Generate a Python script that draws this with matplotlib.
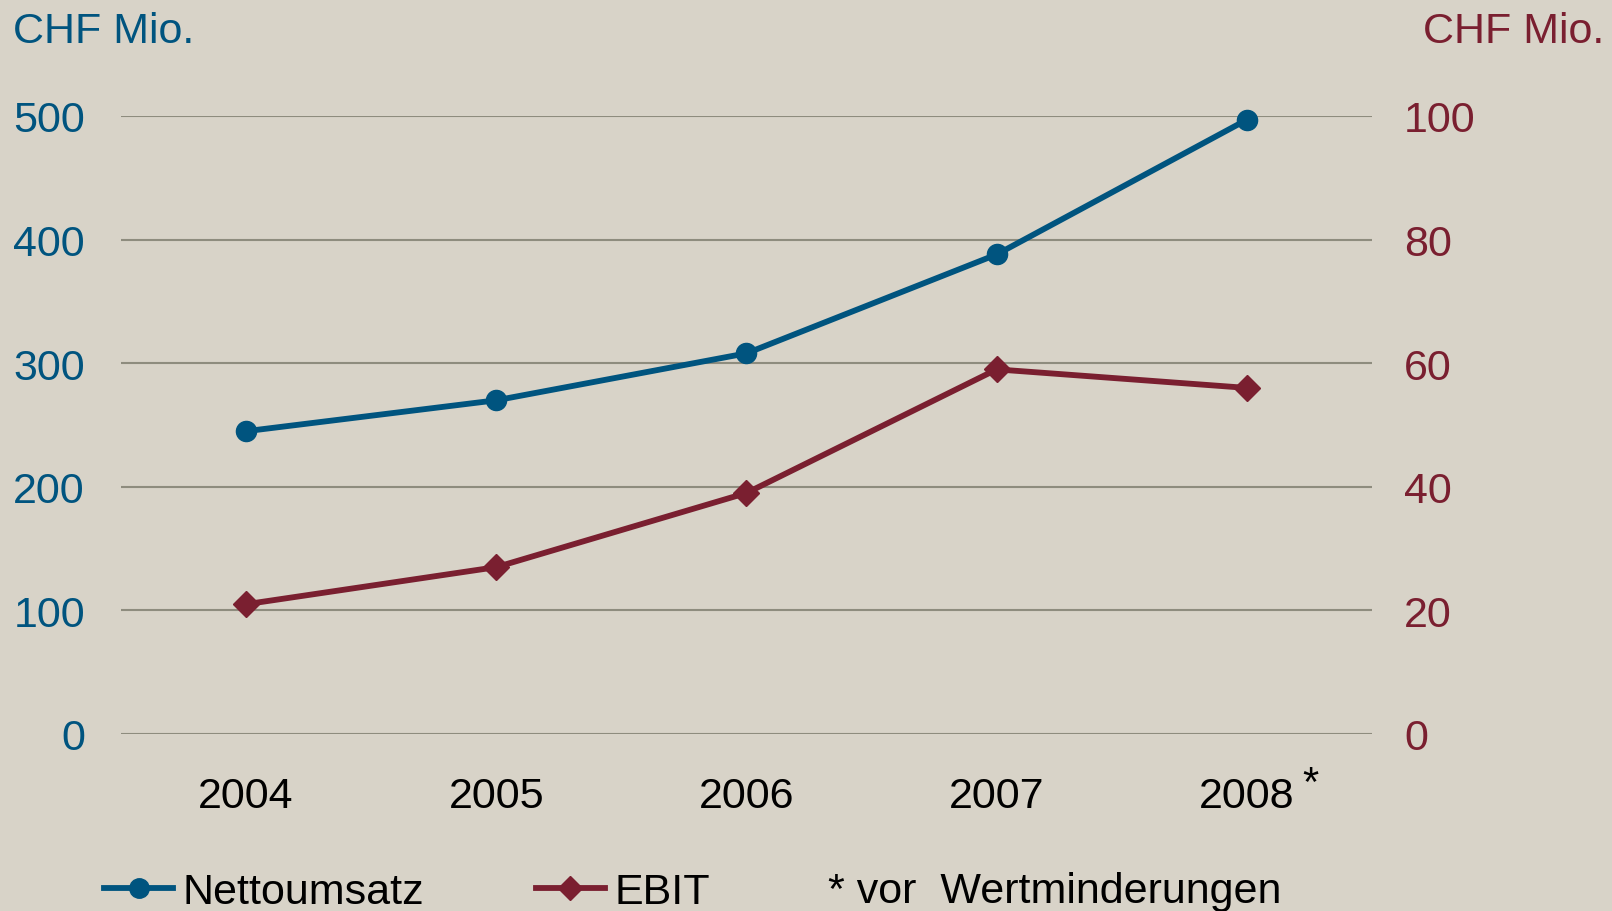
import matplotlib
matplotlib.use("Agg")
import matplotlib.pyplot as plt
from matplotlib.lines import Line2D

years = ["2004", "2005", "2006", "2007", "2008"]
nettoumsatz = [245, 270, 308, 388, 497]
ebit = [21, 27, 39, 59, 56]
left_ticks = [0, 100, 200, 300, 400, 500]
right_ticks = [0, 20, 40, 60, 80, 100]

BG = "#D8D3C8"
BLUE = "#00547F"
RED = "#7A1F30"
GRID = "#8E8C7E"

plt.rcParams["font.family"] = ["Liberation Sans", "DejaVu Sans"]

fig = plt.figure(figsize=(16.12, 9.12), dpi=100, facecolor=BG)
ax = fig.add_axes([121/1612, 1-735/912, (1372-121)/1612, (735-117)/912])
ax.set_facecolor(BG)
ax2 = ax.twinx()

x = list(range(len(years)))
ax.set_xlim(-0.5, len(years)-0.5)
ax.set_ylim(0, 500)
ax2.set_ylim(0, 100)

for t in left_ticks:
    ax.axhline(t, color=GRID, lw=1.5, zorder=1)

ax.plot(x, nettoumsatz, color=BLUE, lw=4.2, marker="o", ms=14.5, zorder=3, clip_on=False)
ax2.plot(x, ebit, color=RED, lw=4.2, marker="D", ms=13, zorder=3, clip_on=False)

for a in (ax, ax2):
    for s in a.spines.values():
        s.set_visible(False)

ax.set_yticks(left_ticks)
ax.set_yticklabels([str(t) for t in left_ticks])
ax.tick_params(axis="y", length=0, pad=26, labelsize=31, labelcolor=BLUE)
ax2.set_yticks(right_ticks)
ax2.set_yticklabels([str(t) for t in right_ticks])
ax2.tick_params(axis="y", length=0, pad=23, labelsize=31, labelcolor=RED)

ax.set_xticks(x)
ax.set_xticklabels(years)
ax.tick_params(axis="x", length=0, pad=30, labelsize=31, labelcolor="black")

fig.text(13/1612, 1-43/912, "CHF Mio.", color=BLUE, fontsize=31, ha="left", va="baseline")
fig.text(1604/1612, 1-43/912, "CHF Mio.", color=RED, fontsize=31, ha="right", va="baseline")
fig.text(1302/1612, 1-796/912, "*", color="black", fontsize=30, ha="left", va="baseline")

fsz = 31
px = fsz * 100 / 72
handles = [Line2D([], [], color=BLUE, lw=4.2, marker="o", ms=14),
           Line2D([], [], color=RED, lw=4.2, marker="D", ms=12.5)]
leg = fig.legend(handles, ["Nettoumsatz", "EBIT"], ncol=2, frameon=False,
                 loc="center left", bbox_to_anchor=(104/1612, 1-893/912),
                 prop={"family": "Liberation Sans", "size": fsz},
                 handlelength=69/px, handletextpad=10/px,
                 columnspacing=111/px, borderaxespad=0, borderpad=0)
fig.text(828/1612, 1-903/912, "* vor  Wertminderungen", color="black", fontsize=31,
         ha="left", va="baseline")

fig.savefig("out.png", dpi=100, facecolor=BG)
